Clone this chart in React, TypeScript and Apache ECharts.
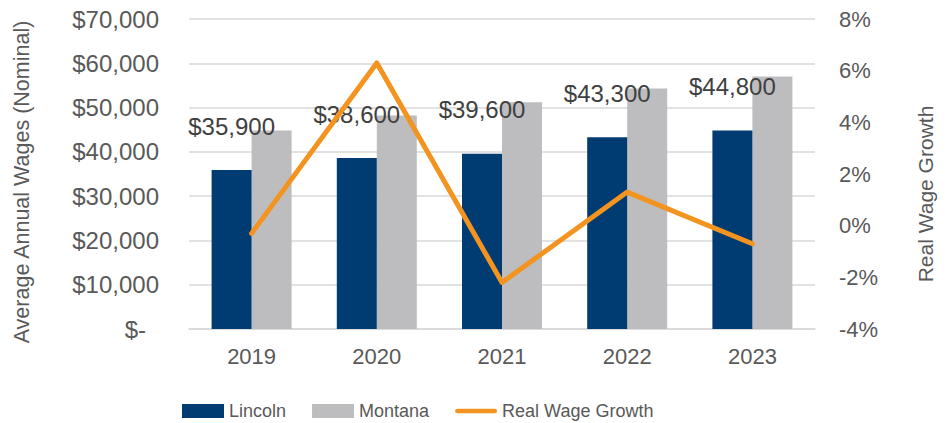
import React, { useEffect, useRef } from "react";
import * as echarts from "echarts";

const categories = ["2019", "2020", "2021", "2022", "2023"];
const lincolnWages = [35900, 38600, 39600, 43300, 44800];
const montanaWages = [44800, 48200, 51200, 54300, 57000];
const realWageGrowth = [-0.3, 6.3, -2.2, 1.3, -0.7];

const FONT = "'Liberation Sans', Arial, sans-serif";
const NAVY = "#003B71";
const GRAY = "#BDBDBF";
const ORANGE = "#F39420";
const AXIS_TEXT = "#595959";
const LABEL_TEXT = "#404040";

function fmtMoney(v: number): string {
  const s = Math.round(v).toString().replace(/\B(?=(\d{3})+(?!\d))/g, ",");
  return "$" + s;
}

export default function App() {
  const ref = useRef<HTMLDivElement>(null);
  useEffect(() => {
    if (!ref.current) return;
    const chart = echarts.init(ref.current, undefined, { renderer: "svg" });
    chart.setOption({
      animation: false,
      grid: { left: 189, right: 135, top: 19, bottom: 94, containLabel: false },
      legend: {
        left: 182,
        top: 402,
        padding: 0,
        itemWidth: 42,
        itemHeight: 14,
        itemGap: 26,
        textStyle: { fontFamily: FONT, fontSize: 18, color: AXIS_TEXT },
        data: [
          { name: "Lincoln", icon: "rect" },
          { name: "Montana", icon: "rect" },
          { name: "Real Wage Growth", icon: "path://M2.5,0 H42.5 A2.5,2.5 0 0 1 42.5,5 H2.5 A2.5,2.5 0 0 1 2.5,0 Z" },
        ],
      },
      xAxis: {
        type: "category",
        data: categories,
        axisLine: { show: true, lineStyle: { color: "#D9D9D9", width: 1.5 } },
        axisTick: { show: false },
        axisLabel: { fontFamily: FONT, fontSize: 22, color: AXIS_TEXT, margin: 16 },
      },
      yAxis: [
        {
          type: "value",
          min: 0,
          max: 70000,
          interval: 10000,
          axisLine: { show: false },
          axisTick: { show: false },
          splitLine: { lineStyle: { color: "#D9D9D9", width: 1.5 } },
          axisLabel: {
            fontFamily: FONT,
            fontSize: 24,
            color: AXIS_TEXT,
            margin: 30,
            formatter: (v: number) => (v === 0 ? "{z|$-}" : fmtMoney(v)),
            rich: {
              z: { fontFamily: FONT, fontSize: 24, color: AXIS_TEXT, padding: [0, 13, 0, 0] },
            },
          },
        },
        {
          type: "value",
          min: -4,
          max: 8,
          interval: 2,
          position: "right",
          axisLine: { show: false },
          axisTick: { show: false },
          splitLine: { show: false },
          axisLabel: {
            fontFamily: FONT,
            fontSize: 22,
            color: AXIS_TEXT,
            margin: 24,
            formatter: (v: number) => v + "%",
          },
        },
      ],
      graphic: [
        {
          type: "text",
          x: 22,
          y: 182,
          rotation: Math.PI / 2,
          style: {
            text: "Average Annual Wages (Nominal)",
            fontFamily: FONT,
            fontSize: 21.5,
            fill: AXIS_TEXT,
            align: "center",
            verticalAlign: "middle",
          },
        },
        {
          type: "text",
          x: 925,
          y: 194,
          rotation: Math.PI / 2,
          style: {
            text: "Real Wage Growth",
            fontFamily: FONT,
            fontSize: 21,
            fill: AXIS_TEXT,
            align: "center",
            verticalAlign: "middle",
          },
        },
      ],
      series: [
        {
          name: "Lincoln",
          type: "bar",
          data: lincolnWages,
          barWidth: 40,
          barGap: "0%",
          itemStyle: { color: NAVY },
          label: {
            show: true,
            position: "top",
            distance: 32,
            fontFamily: FONT,
            fontSize: 24,
            color: LABEL_TEXT,
            formatter: (p: any) => fmtMoney(p.value),
          },
          z: 2,
        },
        {
          name: "Montana",
          type: "bar",
          data: montanaWages,
          barWidth: 40,
          barGap: "0%",
          itemStyle: { color: GRAY },
          z: 1,
        },
        {
          name: "Real Wage Growth",
          type: "line",
          yAxisIndex: 1,
          data: realWageGrowth,
          symbol: "none",
          itemStyle: { color: ORANGE },
          lineStyle: { color: ORANGE, width: 5, cap: "round", join: "round" },
          z: 5,
        },
      ],
    });
    return () => chart.dispose();
  }, []);
  return (
    <div
      ref={ref}
      style={{ position: "fixed", left: 0, top: 0, width: 950, height: 423, background: "#fff" }}
    />
  );
}
